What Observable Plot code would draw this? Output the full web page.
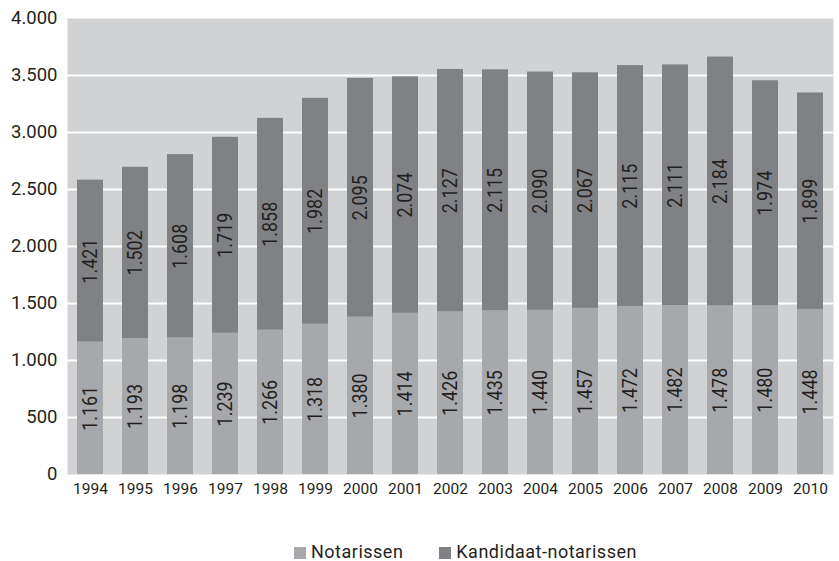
<!DOCTYPE html>
<html>
<head>
<meta charset="utf-8">
<script src="https://cdn.jsdelivr.net/npm/d3@7"></script>
<script src="https://cdn.jsdelivr.net/npm/@observablehq/plot@0.6"></script>
<style>
  html, body { margin: 0; background: #fff; font-family: Roboto, "Liberation Sans", sans-serif; overflow: hidden; }
  #chart { width: 839px; height: 520px; }
  #chart svg { display: block; }
  .legend { display: flex; justify-content: flex-start; align-items: center; height: 18px; line-height: 18px; margin-top: 23px; padding-left: 294px; font-size: 18px; letter-spacing: 0.5px; color: #231f20; }
  .legend .item { display: flex; align-items: center; margin-right: 36px; }
  .legend .sw { width: 12px; height: 12px; margin-right: 5px; margin-top: 2px; }
</style>
</head>
<body>
<div id="chart"></div>
<script>
const years = ["1994","1995","1996","1997","1998","1999","2000","2001","2002","2003","2004","2005","2006","2007","2008","2009","2010"];
const notarissen = [1161,1193,1198,1239,1266,1318,1380,1414,1426,1435,1440,1457,1472,1482,1478,1480,1448];
const kandidaat = [1421,1502,1608,1719,1858,1982,2095,2074,2127,2115,2090,2067,2115,2111,2184,1974,1899];
const seriesNames = ["Notarissen", "Kandidaat-notarissen"];
const seriesColors = ["#a7a8ab", "#808184"];
const yTicks = [0,500,1000,1500,2000,2500,3000,3500,4000];

const nl = d3.formatLocale({decimal: ",", thousands: ".", grouping: [3], currency: ["€", ""]});
const fmt = nl.format(",d");

const rows = [];
years.forEach((y, i) => {
  rows.push({year: y, series: seriesNames[0], value: notarissen[i]});
  rows.push({year: y, series: seriesNames[1], value: kandidaat[i]});
});

const chart = Plot.plot({
  width: 839,
  height: 520,
  marginLeft: 67,
  marginRight: 6,
  marginTop: 18,
  marginBottom: 46,
  style: {fontFamily: "Roboto, 'Liberation Sans', sans-serif", color: "#231f20", background: "#fff"},
  x: {domain: years, paddingInner: 0.42, paddingOuter: 0.2, label: null},
  y: {domain: [0, 4000], label: null},
  color: {domain: seriesNames, range: seriesColors},
  marks: [
    Plot.frame({fill: "#d1d2d4", stroke: null}),
    Plot.gridY(yTicks.filter(d => d > 0 && d < 4000), {stroke: "#fff", strokeOpacity: 1, strokeWidth: 2}),
    Plot.barY(rows, Plot.stackY({x: "year", y: "value", fill: "series", order: seriesNames})),
    Plot.text(rows, Plot.stackY({x: "year", y: "value", z: "series", order: seriesNames, text: d => fmt(d.value), rotate: -90, fontSize: 21, fill: "#231f20", className: "barlabel"})),
    Plot.axisY({ticks: yTicks, tickSize: 0, tickPadding: 10, tickFormat: fmt, fontSize: 18.5, label: null}),
    Plot.axisX({tickSize: 0, tickPadding: 8, fontSize: 15.5, label: null, style: {letterSpacing: "0.3px"}})
  ]
});
document.getElementById("chart").appendChild(chart);
// condense the bar labels to match the narrow typeface of the original
chart.querySelectorAll(".barlabel text").forEach(t => {
  t.setAttribute("textLength", "45");
  t.setAttribute("lengthAdjust", "spacingAndGlyphs");
});

const legend = document.createElement("div");
legend.className = "legend";
seriesNames.forEach((name, i) => {
  const item = document.createElement("span");
  item.className = "item";
  const sw = document.createElement("span");
  sw.className = "sw";
  sw.style.background = seriesColors[i];
  item.appendChild(sw);
  item.appendChild(document.createTextNode(name));
  legend.appendChild(item);
});
document.body.appendChild(legend);
</script>
</body>
</html>
